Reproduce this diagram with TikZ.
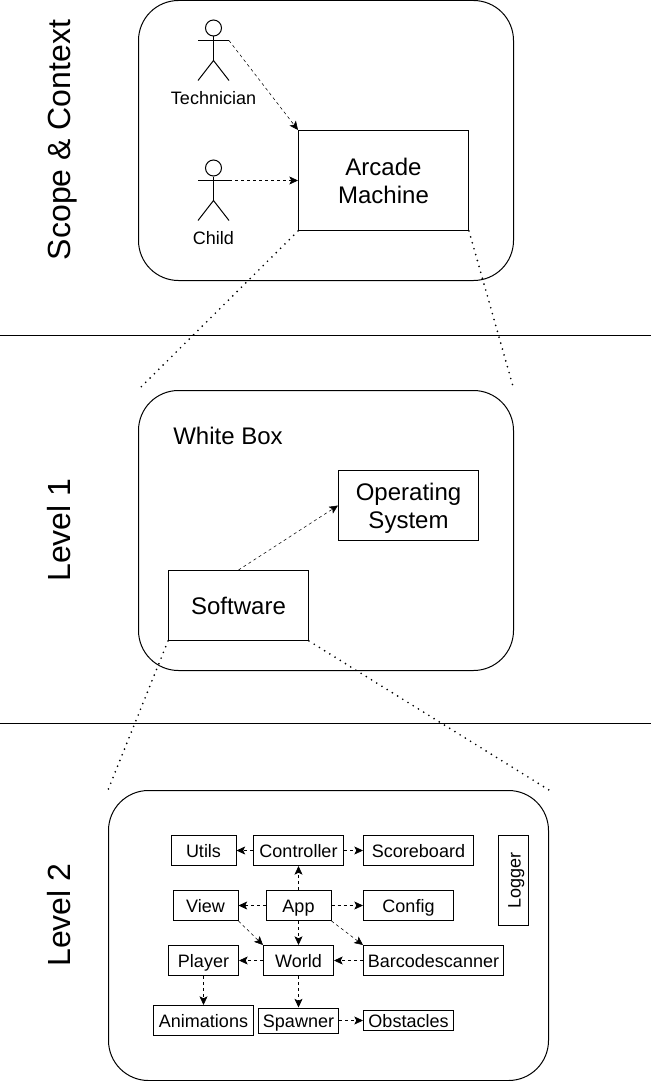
\documentclass[tikz,border=0pt]{standalone}
\usepackage{fontspec}
\setmainfont{Liberation Sans}
\usetikzlibrary{arrows.meta}
\usetikzlibrary{positioning}

\begin{document}
\begin{tikzpicture}[x=0.75pt,y=-0.75pt,line width=0.75pt,
  box/.style={draw,inner sep=0pt,minimum width=#1*0.75pt},
  big/.style={box=#1,minimum height=70*0.75pt,align=center,font=\fontsize{18}{21}\selectfont},
  small/.style={box=#1,minimum height=30*0.75pt,text height=12pt,text depth=1.5pt,font=\fontsize{13.5}{16}\selectfont},
  level/.style={draw,inner sep=0pt,rounded corners=30pt,minimum width=375*0.75pt,minimum height=280*0.75pt},
  title/.style={rotate=90,text height=17.5pt,text depth=4.8pt,font=\fontsize{24}{28}\selectfont},
  uses/.style={dash pattern=on 2.25pt off 2.25pt,line width=0.6pt,-{Stealth[length=6.5pt,width=6pt,inset=1.5pt]}},
  usesthin/.style={uses,line width=0.4pt},
  zoomline/.style={line cap=round,dash pattern=on 0pt off 4.6pt,line width=1.4pt}]
\useasboundingbox (0,0) rectangle (652,1081);

\draw (0,335.5) coordinate (s1) -- (651,335.5) coordinate (s2);
\draw (0,723.5) coordinate (s3) -- (651,723.5) coordinate (s4);

\node[title] (tScope) at (62,140) {Scope \& Context};
\node[title] (tOne) at (62,530) {Level 1};
\node[title] (tTwo) at (62,915) {Level 2};

% context
\node[level] (context) at (326,140.5) {};
\node[big=170,minimum height=100*0.75pt] (arcade) at (383.5,180.5) {Arcade\\Machine};
\foreach \a/\y/\t in {tech/0/Technician,child/140/Child} {
  \node[draw,circle,inner sep=0pt,minimum size=16*0.75pt] (\a Head) at (213.5,28+\y) {};
  \coordinate (\a Left) at (198,40.5+\y);
  \coordinate (\a Hand) at (229,40.5+\y);
  \coordinate (\a Hip) at (213.5,60.5+\y);
  \coordinate (\a FootL) at (198,80.5+\y);
  \coordinate (\a FootR) at (229,80.5+\y);
  \draw (\a Head) -- (\a Hip);
  \draw (\a Left) -- (\a Hand);
  \draw (\a FootL) -- (\a Hip) -- (\a FootR);
  \node[font=\fontsize{13.5}{16}\selectfont] (\a Label) at (213.5,98.5+\y) {\t};
}
\draw[usesthin] (techHand) -- (arcade.north west);
\draw[uses] (childHand) -- (arcade.west);

% level 1
\node[level] (white) at (326,530.5) {};
\node[font=\fontsize{18}{21}\selectfont] (whiteLabel) at (228,436) {White Box};
\node[big=140,text depth=0pt] (os) at (408.5,505.5) {Operating\\System};
\node[big=140] (software) at (238.5,605.5) {Software};
\draw[usesthin] (software.north) -- (os.west);

% level 2
\node[level,minimum width=440*0.75pt,minimum height=290*0.75pt] (inner) at (328.5,935.5) {};
\node[small=65] (Utils) at (203.5,850.5) {Utils};
\node[small=90] (Controller) at (298.5,850.5) {Controller};
\node[small=110] (Scoreboard) at (418.5,850.5) {Scoreboard};
\node[small=90,rotate=90] (Logger) at (513.5,880.5) {Logger};
\node[small=65] (View) at (205.5,905.5) {View};
\node[small=65] (App) at (298.5,905.5) {App};
\node[small=90] (Config) at (408.5,905.5) {Config};
\node[small=70] (Player) at (203.5,960.5) {Player};
\node[small=70] (World) at (298.5,960.5) {World};
\node[small=140] (Barcode) at (433.5,960.5) {Barcodescanner};
\node[small=100] (Animations) at (203.5,1020.5) {Animations};
\node[small=80,minimum height=25*0.75pt] (Spawner) at (298.5,1020.5) {Spawner};
\node[small=90,minimum height=20*0.75pt] (Obstacles) at (408.5,1020.5) {Obstacles};

\foreach \p/\q in {Controller.west/Utils.east,Controller.east/Scoreboard.west,
  App.north/Controller.south,App.west/View.east,App.east/Config.west,
  App.south/World.north,World.west/Player.east,Barcode.west/World.east,
  Player.south/Animations.north,World.south/Spawner.north,Spawner.east/Obstacles.west}
  \draw[uses] (\p) -- (\q);
\draw[usesthin] (App.south east) -- (Barcode.north west);
\draw[usesthin] (View.south east) -- (World.north west);

\draw[zoomline] (arcade.south west) -- (white.north west);
\draw[zoomline] (arcade.south east) -- (white.north east);
\draw[zoomline] (software.south west) -- (inner.north west);
\draw[zoomline] (software.south east) -- (inner.north east);
\end{tikzpicture}
\end{document}
